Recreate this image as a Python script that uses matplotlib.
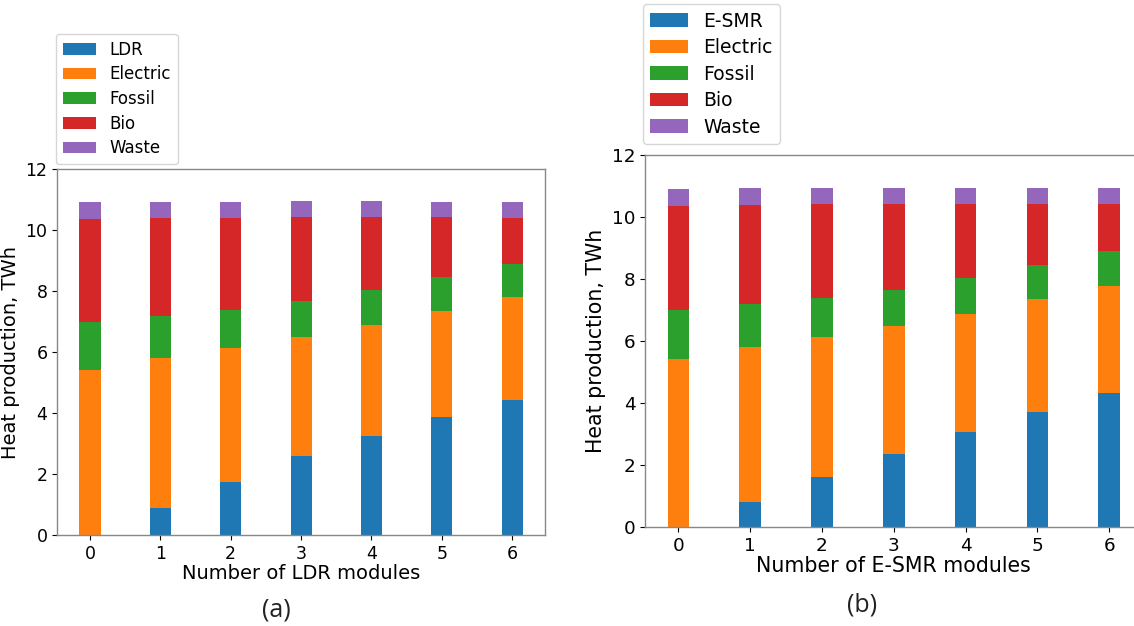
import numpy as np
import matplotlib.pyplot as plt

# modules on the x axis
modules = [0, 1, 2, 3, 4, 5, 6]
sources = ['Electric', 'Fossil', 'Bio', 'Waste']

# (a) LDR case, TWh
ldr = [0.0, 0.87, 1.75, 2.60, 3.26, 3.87, 4.44]
electric_a = [5.43, 4.95, 4.39, 3.89, 3.64, 3.49, 3.37]
fossil_a = [1.56, 1.38, 1.25, 1.19, 1.15, 1.10, 1.08]
bio_a = [3.37, 3.20, 3.03, 2.75, 2.38, 1.97, 1.53]
waste_a = [0.56, 0.53, 0.52, 0.53, 0.52, 0.51, 0.51]

# (b) E-SMR case, TWh
esmr = [0.0, 0.82, 1.63, 2.37, 3.08, 3.72, 4.33]
electric_b = [5.43, 4.99, 4.50, 4.11, 3.81, 3.63, 3.46]
fossil_b = [1.57, 1.39, 1.27, 1.18, 1.15, 1.11, 1.11]
bio_b = [3.36, 3.20, 3.02, 2.76, 2.38, 1.96, 1.52]
waste_b = [0.56, 0.53, 0.52, 0.52, 0.52, 0.52, 0.52]


def stacked(ax, first, first_name, rest, xlabel, fs, lfs):
    bottom = np.zeros(len(modules))
    for name, vals in zip([first_name] + sources, [first] + rest):
        ax.bar(modules, vals, width=0.3, bottom=bottom, label=name)
        bottom += np.array(vals)
    ax.set_ylim(0, 12)
    ax.set_yticks([0, 2, 4, 6, 8, 10, 12])
    ax.set_xticks(modules)
    ax.tick_params(labelsize=fs)
    ax.set_xlabel(xlabel, fontsize=lfs, labelpad=1)
    ax.set_ylabel('Heat production, TWh', fontsize=lfs)
    for s in ax.spines.values():
        s.set_color('#888888')
        s.set_linewidth(1.0)


fig = plt.figure(figsize=(11.34, 6.26), dpi=100)

ax1 = fig.add_axes([0.0505, 0.1454, 0.430, 0.584])
stacked(ax1, ldr, 'LDR', [electric_a, fossil_a, bio_a, waste_a],
        'Number of LDR modules', 12.5, 14)
h, l = ax1.get_legend_handles_labels()
fig.legend(h, l, loc='upper left', bbox_to_anchor=(0.0494, 0.9457),
           fontsize=12, borderaxespad=0, labelspacing=0.4)

ax2 = fig.add_axes([0.5688, 0.1581, 0.4387, 0.594])
stacked(ax2, esmr, 'E-SMR', [electric_b, fossil_b, bio_b, waste_b],
        'Number of E-SMR modules', 13.2, 14.8)
h, l = ax2.get_legend_handles_labels()
fig.legend(h, l, loc='upper left', bbox_to_anchor=(0.567, 0.9936),
           fontsize=13.5, borderaxespad=0, labelspacing=0.4)

fig.text(0.2434, 0.025, '(a)', fontsize=18, ha='center', va='center',
         family='Open Sans', color='#222222')
fig.text(0.760, 0.033, '(b)', fontsize=18, ha='center', va='center',
         family='Open Sans', color='#222222')

fig.savefig('out.png', dpi=100)
